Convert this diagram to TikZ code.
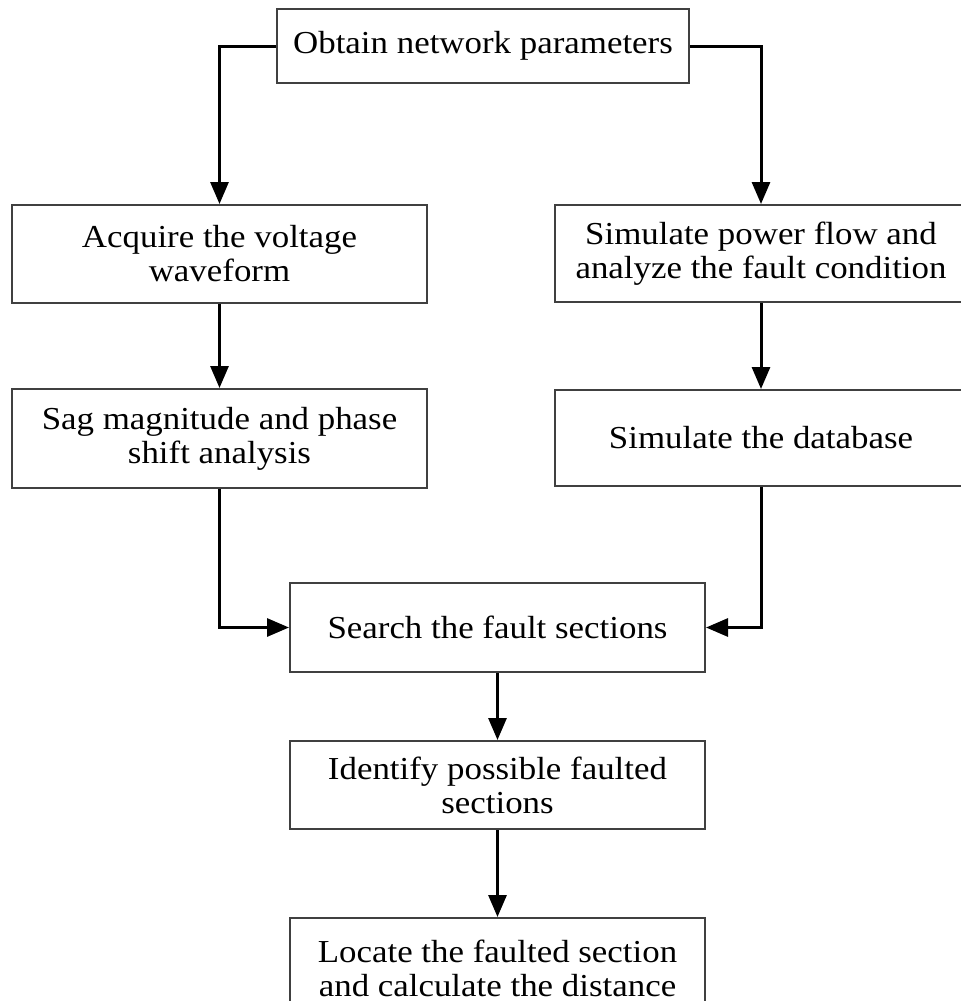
\documentclass[tikz,border=0pt]{standalone}
\usepackage{fontspec}
\setmainfont{Liberation Serif}[FakeStretch=1.09]
\usetikzlibrary{arrows.meta}

\begin{document}
\begin{tikzpicture}[x=0.5pt,y=-0.5pt,>={Triangle[length=11pt,width=9pt]},
  block/.style={draw=black!75,line width=1pt,align=center,inner sep=0pt,font=\fontsize{16}{17}\selectfont},
  flow/.style={->,line width=1.5pt}]
  \useasboundingbox (0,0) rectangle (961,1001);
  \clip (0,0) rectangle (961,1001);
  \node[block,minimum width=206pt,minimum height=37pt] (obtain) at (483,46) {Obtain network parameters};
  \node[block,minimum width=207.5pt,minimum height=49pt] (acquire) at (219.5,254) {Acquire the voltage\\waveform};
  \node[block,minimum width=206pt,minimum height=48.5pt] (simflow) at (761,253.5) {Simulate power flow and\\analyze the fault condition};
  \node[block,minimum width=207.5pt,minimum height=49.5pt] (sag) at (219.5,438.5) {Sag magnitude and phase\\shift analysis};
  \node[block,minimum width=206pt,minimum height=48pt] (simdb) at (761,438) {Simulate the database};
  \node[block,minimum width=207.5pt,minimum height=44.5pt] (search) at (497.5,627.5) {Search the fault sections};
  \node[block,minimum width=207.5pt,minimum height=44pt] (identify) at (497.5,785) {Identify possible faulted\\sections};
  \node[block,minimum width=207.5pt,minimum height=50pt] (locate) at (497.5,968) {Locate the faulted section\\and calculate the distance};
  \draw[flow] (obtain.west) -| (acquire.north);
  \draw[flow] (obtain.east) -| (simflow.north);
  \draw[flow] (acquire) -- (sag);
  \draw[flow] (simflow) -- (simdb);
  \draw[flow] (sag.south) |- (search.west);
  \draw[flow] (simdb.south) |- (search.east);
  \draw[flow] (search) -- (identify);
  \draw[flow] (identify) -- (locate);
\end{tikzpicture}
\end{document}
